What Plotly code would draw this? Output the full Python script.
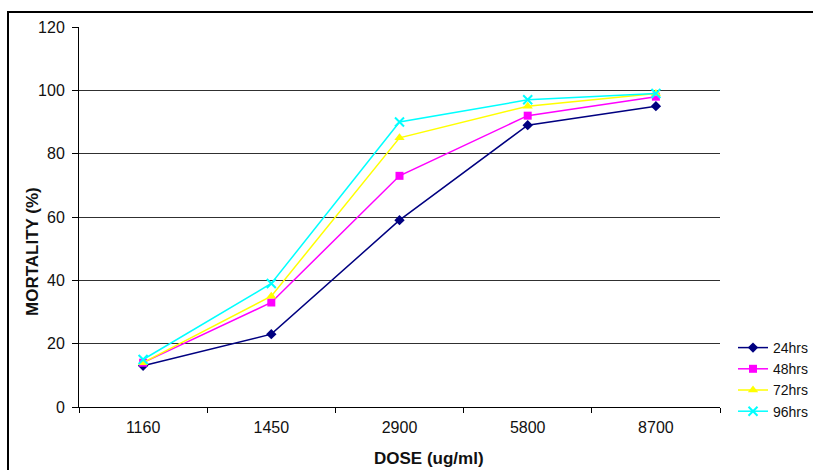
import plotly.graph_objects as go

doses = ["1160", "1450", "2900", "5800", "8700"]
series_names = ["24hrs", "48hrs", "72hrs", "96hrs"]
m24 = [13, 23, 59, 89, 95]
m48 = [14, 33, 73, 92, 98]
m72 = [14, 35, 85, 95, 99]
m96 = [15, 39, 90, 97, 99]
y_ticks = [0, 20, 40, 60, 80, 100, 120]

colors = ["#000080", "#FF00FF", "#FFFF00", "#00FFFF"]
symbols = ["diamond", "square", "triangle-up", "x-thin"]
sizes = [8, 8, 9, 9]
values = [m24, m48, m72, m96]

fig = go.Figure()
for name, vals, c, s, sz in zip(series_names, values, colors, symbols, sizes):
    fig.add_trace(go.Scatter(
        x=doses, y=vals, name=name, mode="lines+markers",
        line=dict(color=c, width=1.5),
        marker=dict(symbol=s, size=sz, color=c, line=dict(color=c, width=2 if s == "x-thin" else 0)),
    ))

L, R, T, B = 79, 720, 27, 407
W, H = 813, 470
pw, ph = R - L, B - T

fig.update_layout(
    width=W, height=H,
    margin=dict(l=L, r=W - R, t=T, b=H - B, autoexpand=False),
    paper_bgcolor="white", plot_bgcolor="white",
    font=dict(family="Liberation Sans, Arial", size=16, color="#111111"),
    showlegend=True,
    legend=dict(x=(733 - L) / pw, xanchor="left", y=(B - 332) / ph, yanchor="top",
                font=dict(size=14), tracegroupgap=0, itemwidth=30,
                bgcolor="rgba(0,0,0,0)"),
    xaxis=dict(
        type="category", showgrid=False, showline=True, linecolor="black", linewidth=1,
        ticks="outside", tickson="boundaries", ticklen=5, tickcolor="black",
        tickfont=dict(size=16), ticklabelstandoff=6,
        range=[-0.5, 4.5], zeroline=False,
    ),
    yaxis=dict(
        range=[0, 120], tickvals=y_ticks, showgrid=True, gridcolor="#303030", gridwidth=1,
        showline=True, linecolor="black", linewidth=1, ticks="outside", ticklen=6,
        tickcolor="black", zeroline=False, tickfont=dict(size=16), ticklabelstandoff=4,
    ),
    annotations=[
        dict(text="<b>DOSE (ug/ml)</b>", xref="paper", yref="paper",
             x=(429 - L) / pw, y=(B - 458) / ph, xanchor="center", yanchor="middle",
             showarrow=False, font=dict(size=17)),
        dict(text="<b>MORTALITY (%)</b>", xref="paper", yref="paper",
             x=(33 - L) / pw, y=(B - 252) / ph, xanchor="center", yanchor="middle",
             textangle=-90, showarrow=False, font=dict(size=17)),
    ],
)

# chart area border (cut off at right and bottom)
fig.add_shape(type="rect", xref="paper", yref="paper",
              x0=(8 - L) / pw, x1=(W + 10 - L) / pw,
              y0=(B - (H + 10)) / ph, y1=(B - 12) / ph,
              line=dict(color="black", width=2), fillcolor="rgba(0,0,0,0)", layer="below")

fig.write_html("out.html")
